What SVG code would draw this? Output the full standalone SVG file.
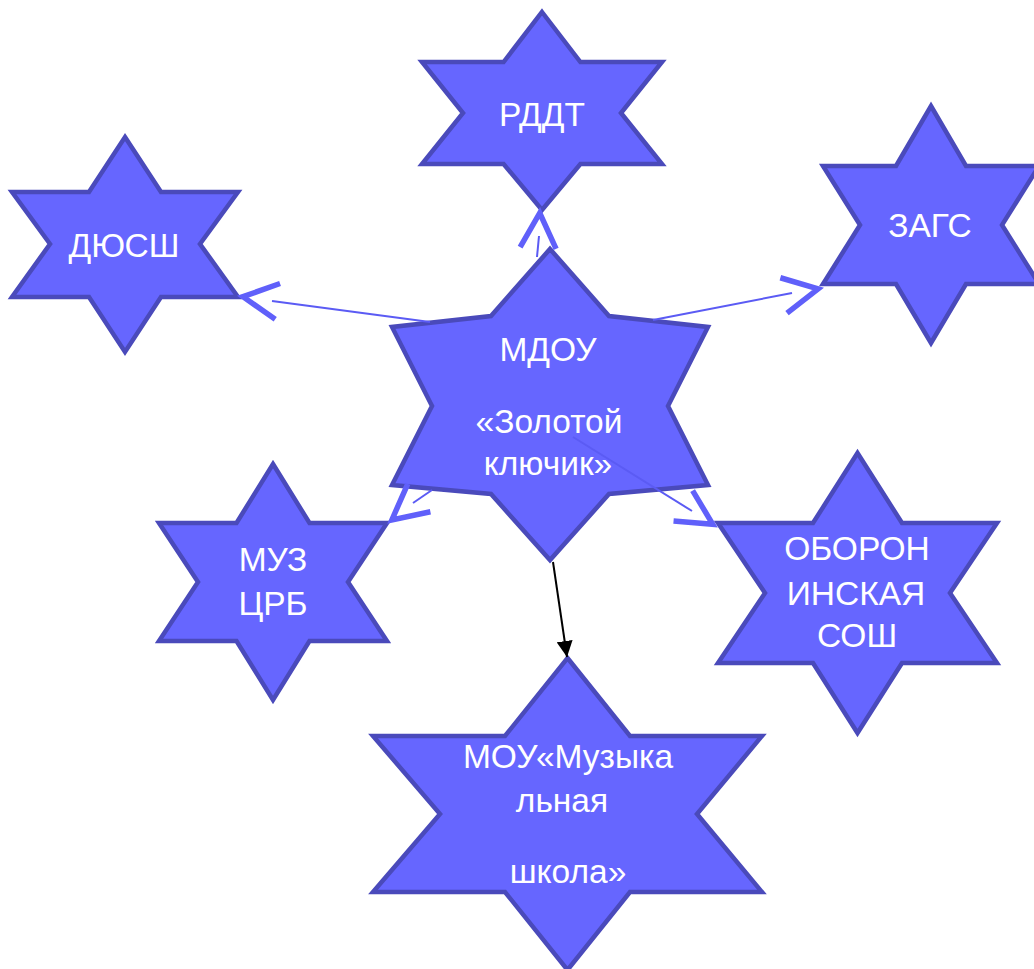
<svg xmlns="http://www.w3.org/2000/svg" xmlns:xlink="http://www.w3.org/1999/xlink" width="1034" height="969" viewBox="0 0 1034 969">
  <style>
    .star { fill: #6666FF; stroke: #4A4ABB; stroke-width: 4.5; stroke-linejoin: miter; }
    .label { font-family: "Liberation Sans", Arial, sans-serif; font-size: 33.5px; fill: #FFFFFF; text-anchor: middle; }
    .thin { stroke: #5B5BF4; stroke-width: 2; fill: none; }
    .head { stroke: #6060FA; stroke-width: 5.5; fill: none; stroke-linejoin: miter; }
    .black { stroke: #000000; stroke-width: 2; fill: none; }
  </style>
  <defs>
    <path id="vhead" class="head" d="M-40,-18 L-5,0 L-40,18"/>
    <marker id="blackArrow" viewBox="0 0 16 16" refX="16" refY="8" markerWidth="16" markerHeight="16" markerUnits="userSpaceOnUse" orient="auto">
      <path d="M0,0 L16,8 L0,16 z" fill="#000000"/>
    </marker>
  </defs>
  <rect width="1034" height="969" fill="#FFFFFF"/>

  <g id="node-rddt">
    <polygon class="star" points="542,12 580.4,62 662,62 621,113 662,164 580.4,164 542,210 503.6,164 422,164 463,113 422,62 503.6,62"/>
    <text class="label" x="542" y="126">РДДТ</text>
  </g>

  <g id="node-dyussh">
    <polygon class="star" points="125,137 161,192 238,192 200,244 238,297 161,297 125,352 89,297 12,297 50,244 12,192 89,192"/>
    <text class="label" x="124" y="257">ДЮСШ</text>
  </g>

  <g id="node-zags">
    <polygon class="star" points="931,106 966,166 1039,166 1002,225 1039,284 966,284 931,343 896,284 823,284 860,225 823,166 896,166"/>
    <text class="label" x="930" y="237">ЗАГС</text>
  </g>

  <g id="node-muz">
    <polygon class="star" points="273,464 309.5,523 387,523 348,582 387,641 309.5,641 273,700 236.5,641 159,641 198,582 159,523 236.5,523"/>
    <text class="label" x="273" y="571">МУЗ</text>
    <text class="label" x="273" y="615">ЦРБ</text>
  </g>

  <g id="node-oboron">
    <polygon class="star" points="857.5,453 902,523 997,523 950,593 997,663 902,663 857.5,733 813,663 718,663 765,593 718,523 813,523"/>
    <text class="label" x="857" y="560">ОБОРОН</text>
    <text class="label" x="856" y="605">ИНСКАЯ</text>
    <text class="label" x="857" y="647">СОШ</text>
  </g>

  <g id="node-mou">
    <polygon class="star" points="567.5,658 630,736 762,736 697,814 762,892 630,892 567.5,970 505,892 373,892 440,814 373,736 505,736"/>
    <text class="label" x="568" y="768">МОУ«Музыка</text>
    <text class="label" x="562" y="812">льная</text>
    <text class="label" x="568" y="883">школа»</text>
  </g>

  <g id="node-mdou">
    <polygon class="star" points="550,249 609,316 708,327 668,406 708,485 609,494 550,560 491,494 392,485 432,406 392,327 491,316"/>
    <text class="label" x="548" y="361">МДОУ</text>
    <text class="label" x="549" y="433">«Золотой</text>
    <text class="label" x="548" y="475">ключик»</text>
  </g>

  <g id="connectors">
    <line class="thin" x1="537" y1="257" x2="539" y2="236"/>
    <use xlink:href="#vhead" href="#vhead" transform="translate(540,208) rotate(-87.3)"/>

    <line class="thin" x1="430" y1="322" x2="272" y2="301"/>
    <use xlink:href="#vhead" href="#vhead" transform="translate(238,296) rotate(187.7)"/>

    <line class="thin" x1="653" y1="320" x2="792" y2="293"/>
    <use xlink:href="#vhead" href="#vhead" transform="translate(823,288) rotate(-10.7)"/>

    <line class="thin" x1="432" y1="490" x2="413" y2="503"/>
    <use xlink:href="#vhead" href="#vhead" transform="translate(388,523) rotate(141)"/>

    <line class="thin" x1="573" y1="437" x2="692" y2="511"/>
    <use xlink:href="#vhead" href="#vhead" transform="translate(717,527) rotate(32)"/>

    <line class="black" x1="553" y1="562" x2="567" y2="657" marker-end="url(#blackArrow)"/>
  </g>
</svg>
